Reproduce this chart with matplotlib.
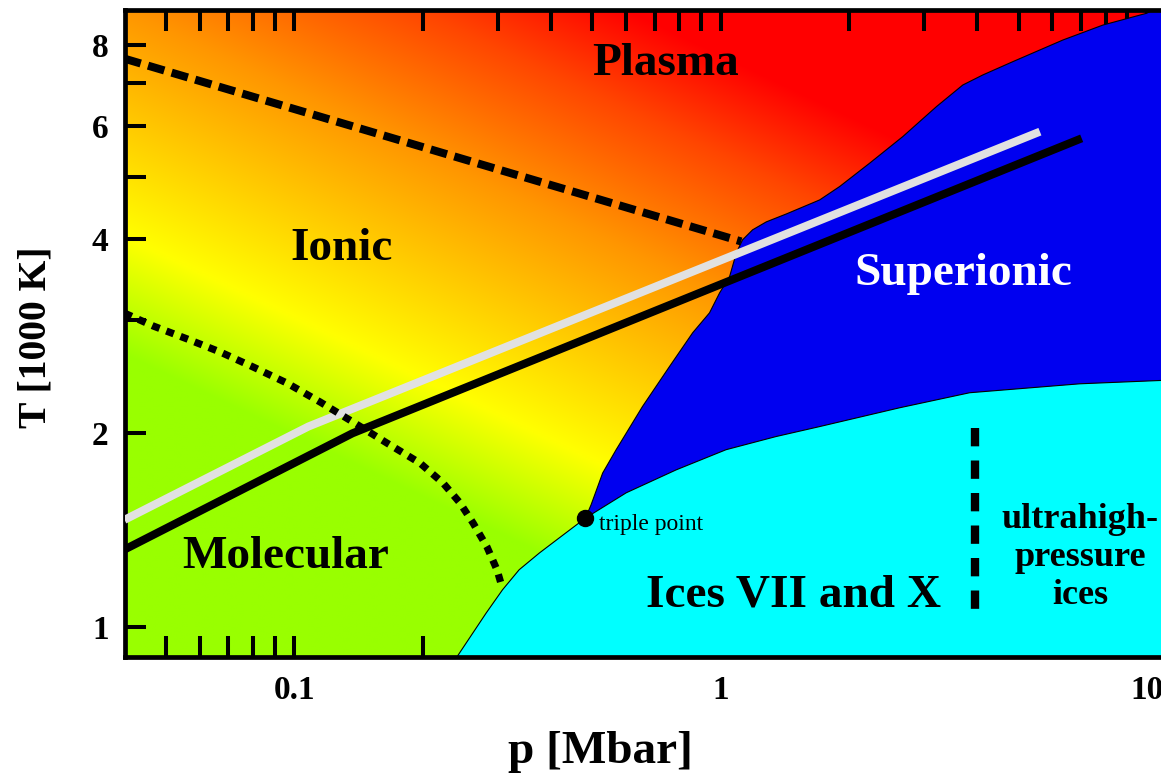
import numpy as np
import matplotlib
matplotlib.use('Agg')
import matplotlib.pyplot as plt
from matplotlib.ticker import FixedLocator, FixedFormatter, NullFormatter

plt.rcParams['font.family'] = ['Liberation Serif', 'DejaVu Serif']
plt.rcParams['font.weight'] = 'bold'
plt.rcParams['axes.labelweight'] = 'bold'

# ---------------- data (p in Mbar, T in 1000 K) ----------------
# upper boundary of Ices VII and X (from bottom axis through the triple point)
ice_p = [0.241, 0.282, 0.308, 0.337, 0.376, 0.419, 0.482, 0.601, 0.787, 1.03,
         1.35, 1.71, 2.63, 3.84, 6.96, 11.5]
ice_T = [0.90, 1.052, 1.143, 1.228, 1.304, 1.377, 1.477, 1.617, 1.755, 1.886,
         1.977, 2.049, 2.191, 2.312, 2.387, 2.42]
# superionic boundary (from the triple point up to the top right)
si_p = [0.482, 0.497, 0.529, 0.569, 0.656, 0.759, 0.860, 0.942, 0.995, 1.050,
        1.089, 1.126, 1.189, 1.280, 1.427, 1.708, 1.902, 2.237, 2.675, 3.209,
        3.699, 4.121, 4.846, 6.352, 7.882, 9.98, 11.5]
si_T = [1.477, 1.549, 1.735, 1.886, 2.201, 2.539, 2.864, 3.076, 3.304, 3.502,
        3.812, 3.993, 4.139, 4.258, 4.381, 4.606, 4.831, 5.252, 5.775, 6.429,
        6.945, 7.199, 7.549, 8.157, 8.604, 8.974, 9.4]
# black solid line
black_p = [0.04, 0.137, 7.03]
black_T = [1.32, 2.00, 5.74]
# light grey line
white_p = [0.04, 0.108, 5.61]
white_T = [1.468, 2.049, 5.878]
# dashed line
dash_p = [0.04, 1.118]
dash_T = [7.63, 3.97]
# dotted line
dot_p = [0.04, 0.0467, 0.0561, 0.067, 0.0801, 0.0962, 0.115, 0.1374, 0.1651,
         0.1973, 0.2235, 0.2449, 0.2628, 0.2835, 0.2991, 0.3073]
dot_T = [3.073, 2.935, 2.802, 2.675, 2.535, 2.393, 2.237, 2.082, 1.931,
         1.798, 1.674, 1.559, 1.451, 1.331, 1.227, 1.154]
# vertical dashed line (ultrahigh-pressure ices)
vd_p = [3.95, 3.95]
vd_T = [2.04, 1.04]
# triple point
tp_p, tp_T = 0.482, 1.477

x_major = [0.1, 1, 10]
x_major_labels = ['0.1', '1', '10']
x_minor = [0.05, 0.06, 0.07, 0.08, 0.09, 0.2, 0.3, 0.4, 0.5, 0.6, 0.7, 0.8,
           0.9, 2, 3, 4, 5, 6, 7, 8, 9]
y_major = [1, 2, 4, 6, 8]
y_major_labels = ['1', '2', '4', '6', '8']
y_minor = [3, 5, 7]

# ---------------- figure ----------------
W, H = 1161, 775
fig = plt.figure(figsize=(W / 100, H / 100), dpi=100)
L, B, AW, AH = 124.5, 118.3, 1040.1, 646.7
pos = [L / W, B / H, AW / W, AH / H]

# background colour gradient (green - yellow - orange - red)
bg = fig.add_axes(pos, zorder=0)
nx, ny = 700, 420
FX, FY = np.meshgrid((np.arange(nx) + 0.5) / nx, (np.arange(ny) + 0.5) / ny)
Xp = L + FX * AW
Yp = B + FY * AH
u = 0.4305 * Xp + 0.9026 * Yp
su = [433, 540, 744, 870, 960]
R = np.interp(u, su, [153, 255, 255, 255, 255])
G = np.interp(u, su, [255, 255, 150, 70, 0])
Bc = np.zeros_like(R)
img = np.dstack([R, G, Bc]) / 255.0
bg.imshow(img, extent=[0, 1, 0, 1], origin='lower', aspect='auto',
          interpolation='bilinear')
bg.set_xlim(0, 1)
bg.set_ylim(0, 1)
bg.set_axis_off()

ax = fig.add_axes(pos, zorder=1)
ax.set_facecolor('none')
ax.set_xscale('log')
ax.set_yscale('log')
ax.set_xlim(0.04, 11)
ax.set_ylim(0.9, 9.08)

# ice region
ice_poly_p = ice_p + [ice_p[-1], ice_p[0]]
ice_poly_T = ice_T + [0.8, 0.8]
ax.fill(ice_poly_p, ice_poly_T, color='#00FFFF', lw=0, zorder=2)
# superionic region
k = ice_p.index(tp_p)
sup_poly_p = si_p + [12, 12] + ice_p[k:][::-1]
sup_poly_T = si_T + [10, ice_T[-1]] + ice_T[k:][::-1]
ax.fill(sup_poly_p, sup_poly_T, color='#0000F0', lw=0, zorder=2)
ax.plot(ice_p, ice_T, color='k', lw=0.8, zorder=2.5)
ax.plot(si_p, si_T, color='k', lw=0.8, zorder=2.5)

ax.plot(white_p, white_T, color='#E1E1E1', lw=5.8, solid_capstyle='butt', zorder=3)
ax.plot(black_p, black_T, color='k', lw=5.8, solid_capstyle='butt', zorder=3.1)
ax.plot(dash_p, dash_T, color='k', lw=5.8, linestyle=(0, (2.1, 0.95)),
        dash_capstyle='butt', zorder=3.2)
ax.plot(dot_p, dot_T, color='k', lw=5.2, linestyle=(0, (1.1, 1.0)),
        dash_capstyle='butt', zorder=3.3)
ax.plot(vd_p, vd_T, color='k', lw=6.0, linestyle=(0, (2.2, 1.7)),
        dash_capstyle='butt', zorder=3.2)
ax.plot([tp_p], [tp_T], 'o', color='k', ms=11.5, zorder=4)

# labels
ax.text(0.743, 7.20, 'Plasma', ha='center', va='baseline', fontsize=34, zorder=5)
ax.text(0.1289, 3.718, 'Ionic', ha='center', va='baseline', fontsize=34, zorder=5)
ax.text(3.72, 3.40, 'Superionic', ha='center', va='baseline', fontsize=34,
        color='white', zorder=5)
ax.text(0.0956, 1.236, 'Molecular', ha='center', va='baseline', fontsize=34, zorder=5)
ax.text(1.48, 1.076, 'Ices VII and X', ha='center', va='baseline', fontsize=34, zorder=5)
ax.text(6.96, 1.281, 'ultrahigh-\npressure\nices', ha='center', va='center',
        fontsize=26, linespacing=1.2, zorder=5)
ax.text(0.52, 1.442, 'triple point', ha='left', va='center', fontsize=17,
        fontweight='normal', zorder=5)

# axes styling
for s in ax.spines.values():
    s.set_linewidth(3.4)
ax.xaxis.set_major_locator(FixedLocator(x_major))
ax.xaxis.set_major_formatter(FixedFormatter(x_major_labels))
ax.xaxis.set_minor_locator(FixedLocator(x_minor))
ax.xaxis.set_minor_formatter(NullFormatter())
ax.yaxis.set_major_locator(FixedLocator(y_major))
ax.yaxis.set_major_formatter(FixedFormatter(y_major_labels))
ax.yaxis.set_minor_locator(FixedLocator(y_minor))
ax.yaxis.set_minor_formatter(NullFormatter())
ax.tick_params(which='both', direction='in', top=True, right=True,
               length=15, width=2.9, labelsize=24)
ax.tick_params(axis='x', which='both', pad=13)
ax.tick_params(axis='y', which='both', pad=11.5)

ax.set_xlabel('p [Mbar]', fontsize=34, fontweight='bold')
ax.xaxis.label.set_va('baseline')
ax.xaxis.set_label_coords(0.4572, -0.1644)
ax.set_ylabel('T [1000 K]', fontsize=28.5, fontweight='bold')
ax.yaxis.label.set_va('center')
ax.yaxis.set_label_coords(-0.0851, 0.4948)

fig.savefig('out.png', dpi=100)
